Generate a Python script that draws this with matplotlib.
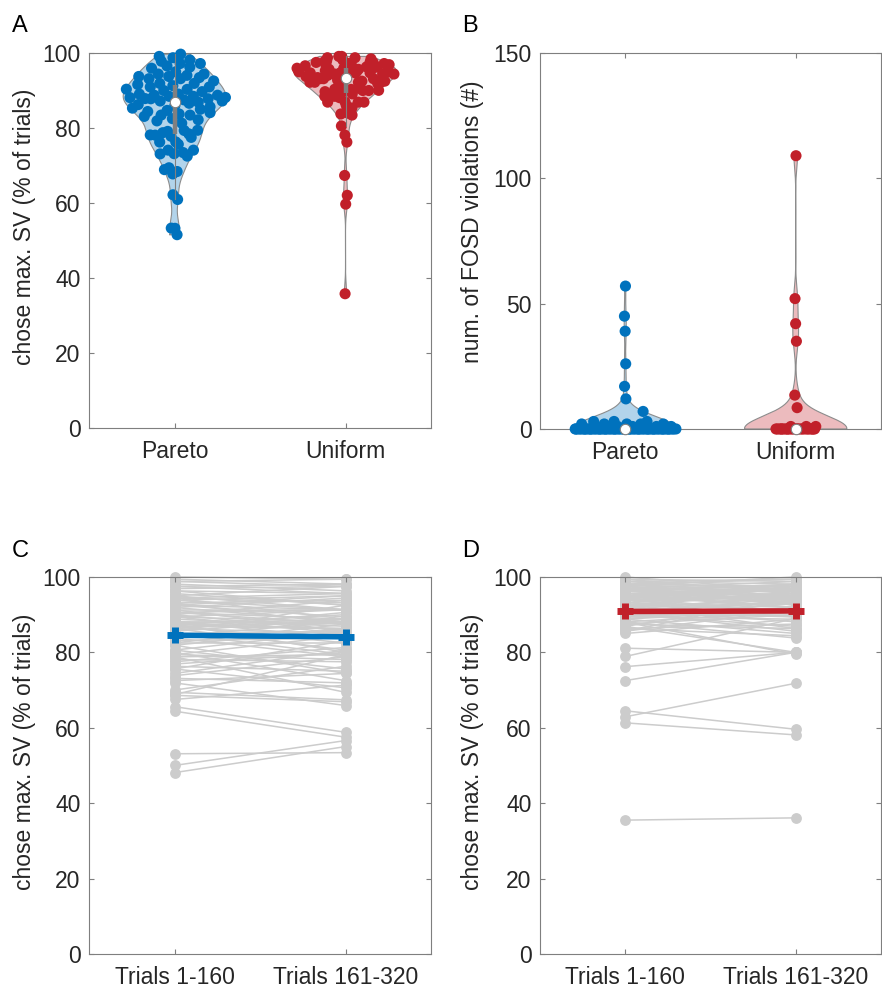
import numpy as np
import matplotlib
matplotlib.use("Agg")
import matplotlib.pyplot as plt

plt.rcParams['font.family'] = ['Liberation Sans', 'DejaVu Sans']
plt.rcParams['font.size'] = 16.5

BLUE = '#0072BD'
RED = '#C1202A'
GREY = '#CCCCCC'
SPINE = '#7F7F7F'
TXT = '#262626'

groups = ['Pareto', 'Uniform']
halves = ['Trials 1-160', 'Trials 161-320']

# chose max. SV (% of trials), per participant, trials 1-160 and 161-320
pareto_first = [65.6, 64.4, 53.1, 50.0, 48.1,
                68.6, 71.9, 69.4, 67.5,
                73.1, 70.0, 75.6, 72.5, 68.8, 78.8,
                76.3, 80.0, 74.4, 78.1, 81.9, 75.6, 79.4, 77.5, 73.8, 80.6, 76.9, 78.8,
                87.5, 83.8, 79.4, 85.0, 82.5, 80.6, 86.3, 83.1, 81.9, 87.5, 84.4, 82.5, 86.9, 85.0, 86.9, 88.1,
                86.3, 88.1, 84.4, 87.5, 85.6, 89.4, 86.9, 88.8, 90.0, 86.3, 88.1, 91.3, 87.5, 89.4, 85.6, 90.6,
                90.6, 91.9, 89.4, 93.1, 90.6, 92.5, 91.3, 94.4, 90.0, 92.5, 93.8, 91.9, 95.0, 93.1, 92.5, 94.4,
                95.6, 93.8, 96.3, 94.4,
                96.3, 95.0, 97.5, 96.9, 98.1, 97.5, 98.8, 99.4, 98.8, 100.0]
pareto_second = [58.8, 57.5, 53.4, 56.6, 55.0,
                 66.9, 65.9, 67.4, 71.3,
                 71.9, 76.3, 70.6, 74.4, 79.4, 69.4,
                 75.0, 72.5, 80.6, 77.5, 74.4, 83.1, 78.1, 81.3, 78.8, 75.6, 80.0, 79.4,
                 88.8, 78.8, 84.4, 79.4, 82.5, 85.6, 80.6, 83.8, 86.3, 80.0, 84.4, 87.5, 82.5, 85.6, 86.3, 87.5,
                 85.0, 83.8, 88.1, 86.3, 88.8, 85.0, 88.1, 86.9, 85.6, 90.6, 88.1, 85.6, 90.0, 88.1, 92.5, 87.5,
                 88.8, 88.1, 91.3, 87.5, 91.3, 89.4, 91.3, 88.8, 93.8, 91.3, 91.3, 94.4, 91.3, 93.8, 95.0, 93.1,
                 92.5, 95.0, 92.5, 95.6,
                 95.6, 97.5, 95.6, 97.5, 96.3, 98.1, 97.5, 98.1, 99.4, 99.4]

uniform_first = [35.5, 64.5, 61.3, 62.9, 72.5, 76.2, 81.1, 78.9, 88.0, 86.9,
                 85.0, 85.6, 86.3, 86.9, 87.5, 85.6, 87.5, 86.3,
                 88.1, 88.8, 89.4, 90.0, 90.6, 88.1, 89.4, 90.0, 90.6, 88.8, 89.4, 90.0, 90.6, 88.8,
                 91.3, 91.9, 92.5, 93.1, 93.8, 91.3, 91.9, 92.5, 93.1, 93.8, 91.3, 92.5, 93.1, 93.8, 91.9,
                 92.5, 93.8,
                 94.4, 95.0, 95.6, 96.3, 96.9, 94.4, 95.0, 95.6, 96.3, 96.9, 94.4, 95.0, 95.6, 96.3, 96.9,
                 94.4, 95.0, 95.6, 96.3, 96.9,
                 96.9, 97.5, 98.1, 98.8, 99.4, 96.9, 97.5, 98.1, 98.8, 96.9, 97.5, 98.1, 98.8, 96.9,
                 97.5, 98.1, 99.4, 100.0]
uniform_second = [36.1, 59.6, 58.1, 71.8, 80.0, 80.0, 80.0, 89.0, 79.5, 80.0,
                  88.8, 91.3, 84.4, 93.8, 86.3, 95.0, 90.0, 87.5,
                  90.6, 85.0, 91.9, 86.9, 93.8, 83.8, 95.0, 90.0, 85.6, 91.3, 88.8, 96.3, 89.4, 93.1,
                  93.1, 89.4, 95.6, 91.9, 96.9, 88.1, 94.4, 93.1, 98.1, 90.6, 95.0, 91.3, 95.6, 93.8, 97.5,
                  86.3, 95.0,
                  95.0, 91.9, 96.9, 93.1, 96.3, 90.6, 95.6, 94.4, 98.1, 92.5, 97.5, 93.8, 96.3, 95.0, 98.8,
                  94.4, 96.9, 91.9, 96.3, 94.4,
                  97.5, 95.0, 99.4, 96.3, 98.8, 93.1, 100.0, 95.6, 98.1, 94.4, 97.5, 93.8, 99.4, 96.9,
                  92.5, 97.5, 95.6, 96.3]

# number of FOSD violations per participant
pareto_fosd = [0] * 68 + [1] * 6 + [2] * 5 + [3] * 3 + [7, 12, 17, 26, 39, 45, 57]
uniform_fosd = [0] * 25 + [1] * 3 + [8.5, 13.5, 35, 42, 52, 109]


def kde(data, grid, bw):
    d = np.asarray(data, float)[:, None]
    return np.exp(-0.5 * ((grid[None, :] - d) / bw) ** 2).sum(axis=0)


def violin(ax, data, pos, color, bw, width=0.3, spread=1.0):
    data = np.asarray(data, float)
    grid = np.linspace(data.min(), data.max(), 400)
    half = kde(data, grid, bw)
    half = half / half.max() * width
    ax.fill_betweenx(grid, pos - half, pos + half, facecolor=color, alpha=0.3,
                     edgecolor='none', zorder=1)
    xs = np.r_[pos - half, (pos + half)[::-1], pos - half[0]]
    ys = np.r_[grid, grid[::-1], grid[0]]
    ax.plot(xs, ys, color='#8C8C8C', lw=0.8, zorder=2, clip_on=False)

    # jitter scaled by the density at each point
    u = 2 * ((np.arange(len(data)) * 0.6180339887 + 0.31) % 1.0) - 1
    jit = np.interp(data, grid, half) * u * spread
    ax.scatter(pos + jit, data, s=64, color=color, edgecolors='none', zorder=3, clip_on=False)

    q1, med, q3 = np.percentile(data, [25, 50, 75])
    iqr = q3 - q1
    lo = data[data >= q1 - 1.5 * iqr].min()
    hi = data[data <= q3 + 1.5 * iqr].max()
    ax.plot([pos, pos], [lo, hi], color='#808080', lw=0.8, zorder=4)
    ax.plot([pos, pos], [q1, q3], color='#808080', lw=3.2, solid_capstyle='butt', zorder=4)
    ax.plot(pos, med, 'o', ms=7.5, mfc='white', mec='#808080', mew=0.8, zorder=5, clip_on=False)


def paired(ax, first, second, color):
    first = np.asarray(first, float)
    second = np.asarray(second, float)
    xx = np.vstack([np.ones_like(first), 2 * np.ones_like(second)])
    yy = np.vstack([first, second])
    ax.plot(xx, yy, '-o', color=GREY, lw=1.1, ms=7.8, mec='none', zorder=1, clip_on=False)
    means = [first.mean(), second.mean()]
    sems = [first.std(ddof=1) / np.sqrt(len(first)), second.std(ddof=1) / np.sqrt(len(second))]
    ax.errorbar([1, 2], means, yerr=sems, color=color, lw=4, elinewidth=5, capsize=0,
                marker='+', ms=12, mew=5, zorder=3)


def style(ax, ylim, yticks, xlabels):
    ax.set_xlim(0.5, 2.5)
    ax.set_ylim(*ylim)
    ax.set_yticks(yticks)
    ax.set_xticks([1, 2], xlabels)
    ax.tick_params(direction='in', length=3.5, width=0.8, color=SPINE, labelcolor=TXT,
                   top=True, right=True, labelsize=16.5)
    ax.tick_params(axis='x', pad=9)
    ax.tick_params(axis='y', pad=6)
    for s in ax.spines.values():
        s.set_color(SPINE)
        s.set_linewidth(0.8)


fig = plt.figure(figsize=(8.82, 9.93), dpi=100)
axA = fig.add_axes([0.1009, 0.5690, 0.3878, 0.3776])
axB = fig.add_axes([0.6122, 0.5680, 0.3866, 0.3787])
axC = fig.add_axes([0.1009, 0.0393, 0.3878, 0.3797])
axD = fig.add_axes([0.6122, 0.0393, 0.3866, 0.3797])

pareto_all = (np.array(pareto_first) + np.array(pareto_second)) / 2
uniform_all = (np.array(uniform_first) + np.array(uniform_second)) / 2

violin(axA, pareto_all, 1, BLUE, bw=3.0)
violin(axA, uniform_all, 2, RED, bw=2.5)
style(axA, (0, 100), np.arange(0, 101, 20), groups)
axA.set_ylabel('chose max. SV (% of trials)', color=TXT)
axA.yaxis.set_label_coords(-0.155, 0.537)

violin(axB, pareto_fosd, 1, BLUE, bw=4.5)
violin(axB, uniform_fosd, 2, RED, bw=5.0, spread=0.4)
style(axB, (0, 150), [0, 50, 100, 150], groups)
axB.set_ylabel('num. of FOSD violations (#)', color=TXT)
axB.yaxis.set_label_coords(-0.165, 0.55)

paired(axC, pareto_first, pareto_second, BLUE)
style(axC, (0, 100), np.arange(0, 101, 20), halves)
axC.set_ylabel('chose max. SV (% of trials)', color=TXT)
axC.yaxis.set_label_coords(-0.155, 0.537)

paired(axD, uniform_first, uniform_second, RED)
style(axD, (0, 100), np.arange(0, 101, 20), halves)
axD.set_ylabel('chose max. SV (% of trials)', color=TXT)
axD.yaxis.set_label_coords(-0.165, 0.537)

for lab, x, y in [('A', 12, 31.5), ('B', 462, 31.5), ('C', 12, 557), ('D', 462, 557)]:
    fig.text(x / 882, 1 - y / 993, lab, fontsize=17, color='black', ha='left', va='baseline')

fig.savefig('out.png', dpi=100)
